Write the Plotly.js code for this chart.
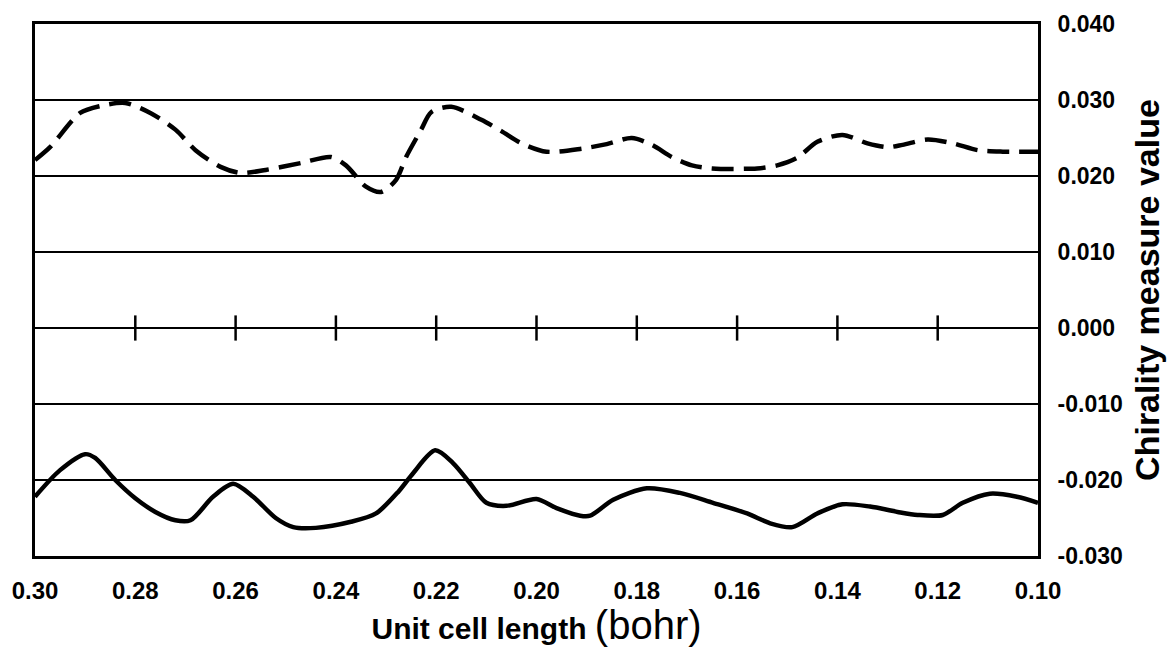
<!DOCTYPE html>
<html>
<head>
<meta charset="utf-8">
<script src="https://cdn.plot.ly/plotly-3.0.1.min.js"></script>
<style>html,body{margin:0;padding:0;background:#fff;}#chart{width:1173px;height:647px;}</style>
</head>
<body>
<div id="chart"></div>
<script>
// Dashed series (positive chirality)
var xDash = [0.300,0.297,0.291,0.287,0.282,0.277,0.272,0.268,0.263,0.259,0.254,0.247,0.241,0.238,0.234,0.231,0.228,0.226,0.223,0.221,0.217,0.211,0.207,0.203,0.198,0.191,0.186,0.181,0.177,0.173,0.169,0.165,0.156,0.152,0.148,0.144,0.139,0.134,0.130,0.127,0.122,0.117,0.112,0.107,0.100];
var yDash = [0.0221,0.0238,0.0283,0.0292,0.0296,0.0283,0.0261,0.0234,0.0212,0.0204,0.0208,0.0217,0.0225,0.0214,0.0186,0.0179,0.0195,0.0225,0.0261,0.0284,0.0291,0.0274,0.0259,0.0243,0.0232,0.0236,0.0242,0.0250,0.0241,0.0225,0.0214,0.0210,0.0210,0.0214,0.0224,0.0245,0.0254,0.0243,0.0238,0.0241,0.0248,0.0243,0.0234,0.0232,0.0232];
// Solid series (negative chirality)
var xSolid = [0.300,0.295,0.290,0.288,0.284,0.280,0.276,0.272,0.269,0.2645,0.2605,0.2565,0.252,0.2485,0.244,0.237,0.232,0.2275,0.2246,0.2202,0.2166,0.2133,0.210,0.206,0.200,0.196,0.1913,0.1893,0.1847,0.178,0.1714,0.1648,0.158,0.1534,0.149,0.144,0.139,0.1335,0.128,0.124,0.119,0.115,0.1096,0.1042,0.100];
var ySolid = [-0.0222,-0.0187,-0.0166,-0.0171,-0.0200,-0.0224,-0.0242,-0.0253,-0.0253,-0.0222,-0.0205,-0.0222,-0.0250,-0.0262,-0.0263,-0.0255,-0.0244,-0.0215,-0.0191,-0.0161,-0.0178,-0.0204,-0.0230,-0.0234,-0.0225,-0.0237,-0.0247,-0.0247,-0.0226,-0.0211,-0.0217,-0.0230,-0.0244,-0.0257,-0.0262,-0.0244,-0.0232,-0.0235,-0.0242,-0.0246,-0.0246,-0.0230,-0.0218,-0.0222,-0.0230];
// Axis ticks
var xTickVals = [0.30,0.28,0.26,0.24,0.22,0.20,0.18,0.16,0.14,0.12,0.10];
var xTickText = ['0.30','0.28','0.26','0.24','0.22','0.20','0.18','0.16','0.14','0.12','0.10'];
var yTickVals = [-0.030,-0.020,-0.010,0.000,0.010,0.020,0.030,0.040];
var yTickText = ['-0.030','-0.020','-0.010','0.000','0.010','0.020','0.030','0.040'];
// Small tick marks drawn on the zero line
var zeroTickX = [0.28,0.26,0.24,0.22,0.20,0.18,0.16,0.14,0.12];
var zeroTickY = zeroTickX.map(function(){return 0;});

var traces = [
  {x: xDash, y: yDash, type: 'scatter', mode: 'lines', name: 'dashed',
   line: {color: '#000', width: 4.5, dash: '22px,10px', shape: 'spline', smoothing: 0.8}},
  {x: xSolid, y: ySolid, type: 'scatter', mode: 'lines', name: 'solid',
   line: {color: '#000', width: 4.5, shape: 'spline', smoothing: 0.8}},
  {x: zeroTickX, y: zeroTickY, type: 'scatter', mode: 'markers', name: 'ticks',
   marker: {symbol: 'line-ns', size: 18, line: {color: '#000', width: 2.5}}, cliponaxis: false}
];

var layout = {
  width: 1173, height: 647,
  margin: {l: 35, r: 135, t: 24, b: 91},
  paper_bgcolor: '#fff', plot_bgcolor: '#fff',
  showlegend: false,
  xaxis: {
    range: [0.30, 0.10], tickvals: xTickVals, ticktext: xTickText,
    showgrid: false, zeroline: false, ticks: '',
    showline: true, mirror: true, linecolor: '#000', linewidth: 3,
    tickfont: {family: 'Liberation Sans, Arial, sans-serif', size: 24, weight: 'bold', color: '#000'},
    ticklabelstandoff: 11,
    title: {text: '<b>Unit cell length</b> <span style="font-size:40px">(bohr)</span>',
            font: {family: 'Liberation Sans, Arial, sans-serif', size: 30, color: '#000'}, standoff: 8}
  },
  yaxis: {
    range: [-0.030, 0.040], side: 'right', tickvals: yTickVals, ticktext: yTickText,
    showgrid: true, gridcolor: '#000', gridwidth: 2,
    zeroline: true, zerolinecolor: '#000', zerolinewidth: 2, ticks: '',
    showline: true, mirror: true, linecolor: '#000', linewidth: 3,
    tickfont: {family: 'Liberation Sans, Arial, sans-serif', size: 23, weight: 'bold', color: '#000'},
    ticklabelstandoff: 12,
    title: {text: 'Chirality measure value',
            font: {family: 'Liberation Sans, Arial, sans-serif', size: 34, weight: 'bold', color: '#000'}, standoff: 14}
  }
};

Plotly.newPlot('chart', traces, layout, {staticPlot: true, displayModeBar: false});
</script>
</body>
</html>
